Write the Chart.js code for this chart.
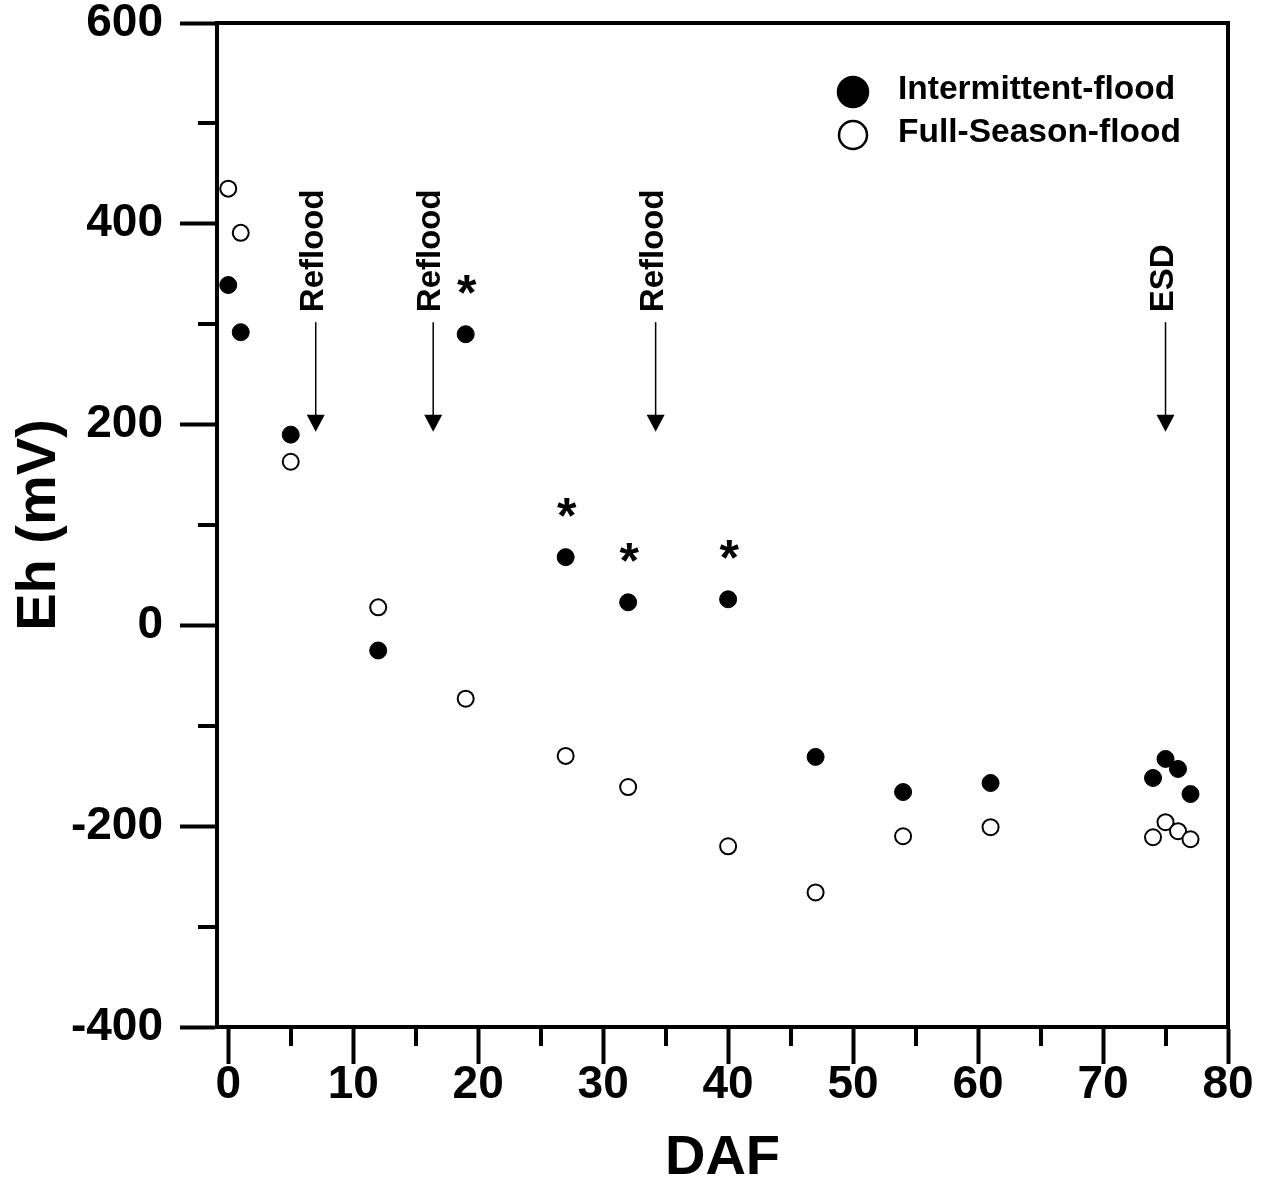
<!DOCTYPE html>
<html>
<head>
<meta charset="utf-8">
<title>Eh vs DAF</title>
<script src="https://cdn.jsdelivr.net/npm/chart.js@4.4.0/dist/chart.umd.min.js"></script>
<style>
  html, body { margin: 0; padding: 0; background: #fff; }
  #wrap { width: 1265px; height: 1181px; }
</style>
</head>
<body>
<div id="wrap"><canvas id="chart" width="1265" height="1181"></canvas></div>
<script>
// days after flooding
const days = [0, 1, 5, 12, 19, 27, 32, 40, 47, 54, 61, 74, 75, 76, 77];
const intermittentEh = [339, 292, 190, -25, 290, 68, 23, 26, -131, -166, -157, -152, -133, -143, -168];
const fullSeasonEh = [435, 391, 163, 18, -73, -130, -161, -220, -266, -210, -201, -211, -196, -205, -213];

// annotations
const refloodDays = [7, 16.4, 34.2];
const esdDays = [75];
const significantDays = [19, 27, 32, 40];

// axis ticks
const xMinorTicks = [5, 15, 25, 35, 45, 55, 65, 75];
const yMinorTicks = [-300, -100, 100, 300, 500];

const FONT = "'Liberation Sans', Arial, Helvetica, sans-serif";

function toPoints(ys) {
    return days.map((d, i) => ({ x: d, y: ys[i] }));
}

// frame (top/right), minor ticks, legend
const framePlugin = {
    id: 'frame',
    afterDraw(chart) {
        const { ctx, chartArea, scales } = chart;
        const { left, right, top, bottom } = chartArea;
        ctx.save();
        ctx.strokeStyle = '#000';
        ctx.lineWidth = 4;
        ctx.lineCap = 'square';
        ctx.beginPath();
        ctx.moveTo(left, top);
        ctx.lineTo(right, top);
        ctx.lineTo(right, bottom);
        ctx.stroke();

        ctx.lineCap = 'butt';
        xMinorTicks.forEach(v => {
            const x = Math.round(scales.x.getPixelForValue(v));
            ctx.beginPath();
            ctx.moveTo(x, bottom);
            ctx.lineTo(x, bottom + 19);
            ctx.stroke();
        });
        yMinorTicks.forEach(v => {
            const y = Math.round(scales.y.getPixelForValue(v));
            ctx.beginPath();
            ctx.moveTo(left, y);
            ctx.lineTo(left - 19, y);
            ctx.stroke();
        });

        // legend
        const lx = right - 375;
        const rows = [top + 69, top + 112];
        chart.data.datasets.forEach((ds, i) => {
            const cy = rows[i];
            ctx.beginPath();
            ctx.arc(lx, cy, i === 0 ? 15 : 14, 0, Math.PI * 2);
            ctx.fillStyle = ds.pointBackgroundColor;
            ctx.fill();
            ctx.lineWidth = 2.5;
            ctx.strokeStyle = '#000';
            ctx.stroke();
            ctx.fillStyle = '#000';
            ctx.font = 'bold 33.5px ' + FONT;
            ctx.textAlign = 'left';
            ctx.textBaseline = 'middle';
            ctx.fillText(ds.label, lx + 45, cy - 2);
        });
        ctx.restore();
    }
};

// arrows with labels and asterisks
const notesPlugin = {
    id: 'notes',
    afterDatasetsDraw(chart) {
        const { ctx, scales } = chart;
        const xs = scales.x, ys = scales.y;
        ctx.save();

        const drawArrow = (day, label) => {
            const x = xs.getPixelForValue(day);
            const yTop = ys.getPixelForValue(302);
            const yTip = ys.getPixelForValue(193);
            ctx.strokeStyle = '#000';
            ctx.lineWidth = 1.5;
            ctx.beginPath();
            ctx.moveTo(x, yTop);
            ctx.lineTo(x, yTip - 15);
            ctx.stroke();
            ctx.fillStyle = '#000';
            ctx.beginPath();
            ctx.moveTo(x - 9, yTip - 17);
            ctx.lineTo(x + 9, yTip - 17);
            ctx.lineTo(x, yTip);
            ctx.closePath();
            ctx.fill();

            ctx.save();
            ctx.translate(x - 2, ys.getPixelForValue(312));
            ctx.rotate(-Math.PI / 2);
            ctx.font = 'bold 33px ' + FONT;
            ctx.textAlign = 'left';
            ctx.textBaseline = 'middle';
            ctx.fillText(label, 0, 0);
            ctx.restore();
        };
        refloodDays.forEach(d => drawArrow(d, 'Reflood'));
        esdDays.forEach(d => drawArrow(d, 'ESD'));

        const meta = chart.getDatasetMeta(0);
        ctx.font = 'bold 50px ' + FONT;
        ctx.textAlign = 'center';
        ctx.textBaseline = 'alphabetic';
        ctx.fillStyle = '#000';
        significantDays.forEach(d => {
            const pt = meta.data[days.indexOf(d)];
            ctx.fillText('*', pt.x + 1, pt.y - 52 + 28);
        });
        ctx.restore();
    }
};

const axisCommon = {
    type: 'linear',
    grid: {
        drawOnChartArea: false,
        drawTicks: true,
        tickLength: 37,
        tickWidth: 4,
        tickColor: '#000'
    },
    border: { display: true, color: '#000', width: 4 }
};

new Chart(document.getElementById('chart'), {
    type: 'scatter',
    data: {
        datasets: [
            {
                label: 'Intermittent-flood',
                data: toPoints(intermittentEh),
                pointBackgroundColor: '#000',
                pointBorderColor: '#000',
                pointBorderWidth: 1,
                pointRadius: 8.5
            },
            {
                label: 'Full-Season-flood',
                data: toPoints(fullSeasonEh),
                pointBackgroundColor: '#fff',
                pointBorderColor: '#000',
                pointBorderWidth: 2,
                pointRadius: 8
            }
        ]
    },
    options: {
        responsive: false,
        animation: false,
        devicePixelRatio: 1,
        layout: { padding: { top: 23, right: 37, left: 0, bottom: 0 } },
        plugins: {
            legend: { display: false },
            tooltip: { enabled: false }
        },
        scales: {
            x: {
                ...axisCommon,
                position: 'bottom',
                min: -0.9,
                max: 80,
                afterFit: s => { s.height = 154; s.paddingLeft = 0; s.paddingRight = 0; },
                ticks: {
                    stepSize: 10,
                    includeBounds: false,
                    color: '#000',
                    padding: -2,
                    maxRotation: 0,
                    font: { family: FONT, size: 46, weight: 'bold', lineHeight: 1 }
                },
                title: {
                    display: true,
                    text: 'DAF',
                    color: '#000',
                    padding: { top: 0, bottom: 0 },
                    font: { family: FONT, size: 56, weight: 'bold', lineHeight: 0.8 }
                }
            },
            y: {
                ...axisCommon,
                position: 'left',
                min: -400,
                max: 600,
                afterFit: s => { s.width = 217; s.paddingTop = 0; s.paddingBottom = 0; },
                ticks: {
                    stepSize: 200,
                    color: '#000',
                    padding: 17,
                    font: { family: FONT, size: 46, weight: 'bold' }
                },
                title: {
                    display: true,
                    text: 'Eh (mV)',
                    color: '#000',
                    padding: { top: 6, bottom: 0 },
                    font: { family: FONT, size: 56, weight: 'bold' }
                }
            }
        }
    },
    plugins: [notesPlugin, framePlugin]
});
</script>
</body>
</html>
